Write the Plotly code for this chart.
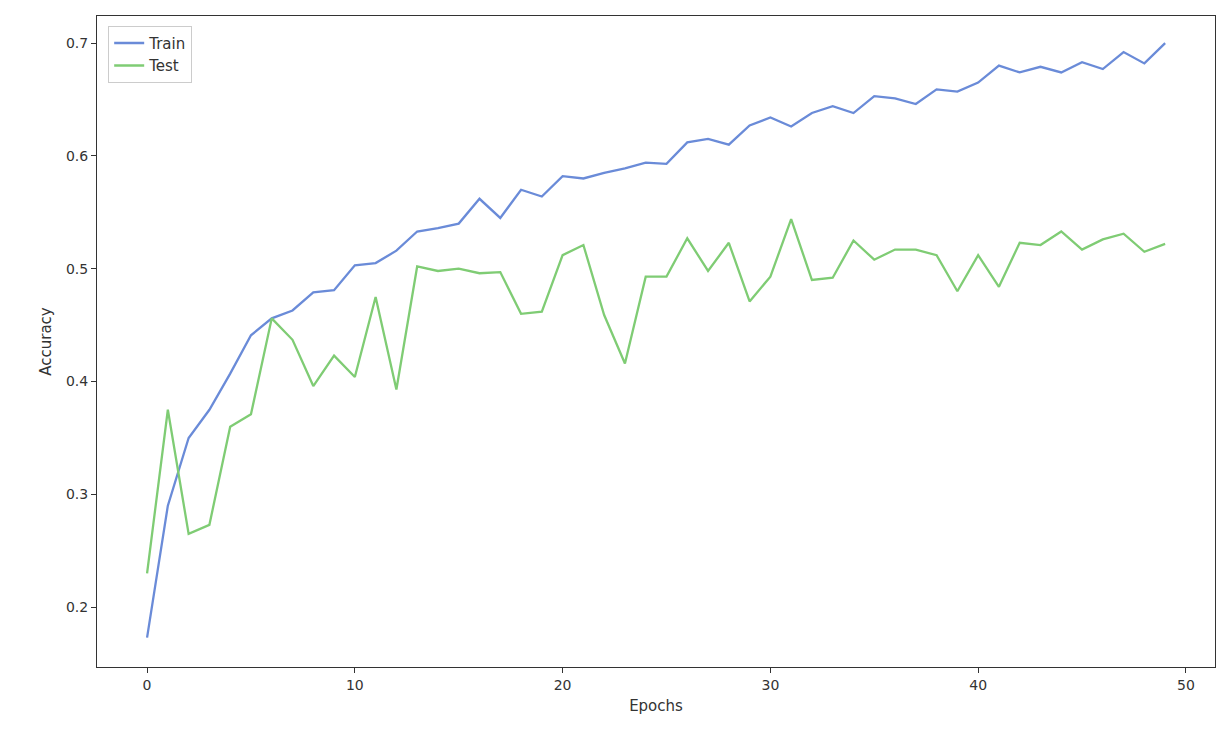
import plotly.graph_objects as go

epochs = list(range(50))
train_acc = [0.173, 0.290, 0.350, 0.375, 0.407, 0.441, 0.456, 0.463, 0.479, 0.481,
             0.503, 0.505, 0.516, 0.533, 0.536, 0.540, 0.562, 0.545, 0.570, 0.564,
             0.582, 0.580, 0.585, 0.589, 0.594, 0.593, 0.612, 0.615, 0.610, 0.627,
             0.634, 0.626, 0.638, 0.644, 0.638, 0.653, 0.651, 0.646, 0.659, 0.657,
             0.665, 0.680, 0.674, 0.679, 0.674, 0.683, 0.677, 0.692, 0.682, 0.700]
test_acc = [0.230, 0.375, 0.265, 0.273, 0.360, 0.371, 0.456, 0.437, 0.396, 0.423,
            0.404, 0.475, 0.393, 0.502, 0.498, 0.500, 0.496, 0.497, 0.460, 0.462,
            0.512, 0.521, 0.459, 0.416, 0.493, 0.493, 0.527, 0.498, 0.523, 0.471,
            0.493, 0.544, 0.490, 0.492, 0.525, 0.508, 0.517, 0.517, 0.512, 0.480,
            0.512, 0.484, 0.523, 0.521, 0.533, 0.517, 0.526, 0.531, 0.515, 0.522]

fig = go.Figure()
fig.add_trace(go.Scatter(x=epochs, y=train_acc, mode="lines", name="Train",
                         line=dict(color="#6A8BD8", width=2.3)))
fig.add_trace(go.Scatter(x=epochs, y=test_acc, mode="lines", name="Test",
                         line=dict(color="#7FCC74", width=2.3)))

axis_style = dict(showgrid=False, zeroline=False, showline=True, linecolor="#333",
                  linewidth=1, mirror=True, ticks="outside", ticklen=5,
                  tickcolor="#333", tickfont=dict(size=14, color="#333"),
                  title_font=dict(size=15, color="#333"))

fig.update_xaxes(range=[-2.41, 51.4], tickvals=[0, 10, 20, 30, 40, 50],
                 title_text="Epochs", title_standoff=8, **axis_style)
fig.update_yaxes(range=[0.147, 0.724], tickvals=[0.2, 0.3, 0.4, 0.5, 0.6, 0.7],
                 tickformat=".1f", title_text="Accuracy", title_standoff=10, **axis_style)

fig.update_layout(width=1226, height=738, plot_bgcolor="white", paper_bgcolor="white",
                  margin=dict(l=89, r=19, t=8, b=79),
                  font=dict(family="DejaVu Sans"),
                  legend=dict(x=0.01, y=0.985, xanchor="left", yanchor="top",
                              bgcolor="rgba(255,255,255,0.8)", bordercolor="#ccc",
                              borderwidth=1, font=dict(size=15, color="#333")))

fig.write_html("out.html")
